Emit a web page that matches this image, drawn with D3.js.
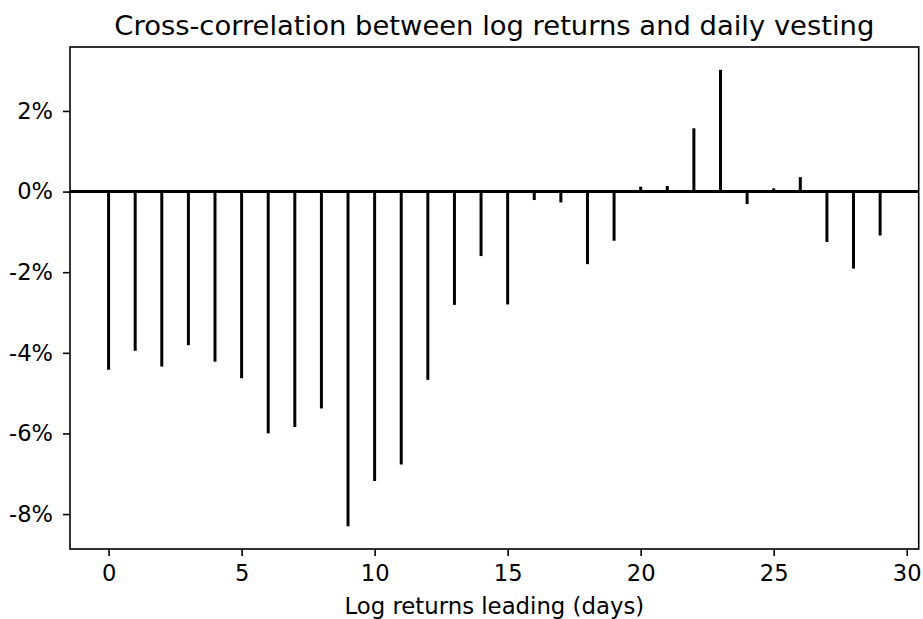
<!DOCTYPE html>
<html>
<head>
<meta charset="utf-8">
<script src="https://cdn.jsdelivr.net/npm/d3@7"></script>
<style>
  body { margin: 0; background: #fff; }
  svg { display: block; font-family: "DejaVu Sans", sans-serif; }
</style>
</head>
<body>
<div id="chart"></div>
<script>
// lag in days (log returns leading)
var lags = [0, 1, 2, 3, 4, 5, 6, 7, 8, 9, 10, 11, 12, 13, 14,
            15, 16, 17, 18, 19, 20, 21, 22, 23, 24, 25, 26, 27, 28, 29];

// cross-correlation values (in %)
var corrPct = [-4.42, -3.95, -4.34, -3.81, -4.22, -4.63, -6.00, -5.84, -5.38, -8.30,
               -7.18, -6.77, -4.67, -2.81, -1.60, -2.80, -0.21, -0.27, -1.80, -1.22,
                0.12,  0.14,  1.57,  3.02, -0.31,  0.08,  0.36, -1.25, -1.91, -1.09];

var xTicks = [0, 5, 10, 15, 20, 25, 30];
var yTicks = [-0.08, -0.06, -0.04, -0.02, 0, 0.02];

var titleText = 'Cross-correlation between log returns and daily vesting';
var xLabelText = 'Log returns leading (days)';

var width = 923, height = 619;
var margin = { top: 47, right: 4.3, bottom: 70, left: 70 };
var tickFont = '22.6px', labelFont = '22.8px', titleFont = '27.4px';

var data = lags.map(function (d, i) { return { lag: d, value: corrPct[i] / 100 }; });

// matplotlib-like 5% padding on both axes
function padded(lo, hi) {
  var p = (hi - lo) * 0.05;
  return [lo - p, hi + p];
}

var x = d3.scaleLinear()
  .domain(padded(d3.min(lags), d3.max(lags)))
  .range([margin.left, width - margin.right]);

var y = d3.scaleLinear()
  .domain(padded(d3.min(data, function (d) { return d.value; }),
                 d3.max(data, function (d) { return d.value; })))
  .range([height - margin.bottom, margin.top]);

var svg = d3.select('#chart').append('svg')
  .attr('width', width)
  .attr('height', height);

// stems
svg.append('g')
  .selectAll('line')
  .data(data)
  .enter().append('line')
  .attr('x1', function (d) { return x(d.lag); })
  .attr('x2', function (d) { return x(d.lag); })
  .attr('y1', y(0))
  .attr('y2', function (d) { return y(d.value); })
  .attr('stroke', '#000')
  .attr('stroke-width', 3);

// zero line
svg.append('line')
  .attr('x1', margin.left)
  .attr('x2', width - margin.right)
  .attr('y1', y(0))
  .attr('y2', y(0))
  .attr('stroke', '#000')
  .attr('stroke-width', 3);

// axes
var xAxis = d3.axisBottom(x)
  .tickValues(xTicks)
  .tickSize(7)
  .tickPadding(9)
  .tickFormat(function (d) { return d; });

var yAxis = d3.axisLeft(y)
  .tickValues(yTicks)
  .tickSize(7)
  .tickPadding(10)
  .tickFormat(function (d) { return Math.round(d * 100) + '%'; });

var gx = svg.append('g')
  .attr('transform', 'translate(0,' + (height - margin.bottom) + ')')
  .call(xAxis);

var gy = svg.append('g')
  .attr('transform', 'translate(' + margin.left + ',0)')
  .call(yAxis);

[gx, gy].forEach(function (g) {
  g.select('.domain').remove();
  g.selectAll('.tick line').attr('stroke', '#000').attr('stroke-width', 1.6);
  g.selectAll('.tick text')
    .attr('fill', '#000')
    .style('font-size', tickFont)
    .style('font-family', '"DejaVu Sans", sans-serif');
});

// frame
svg.append('rect')
  .attr('x', margin.left)
  .attr('y', margin.top)
  .attr('width', width - margin.left - margin.right)
  .attr('height', height - margin.top - margin.bottom)
  .attr('fill', 'none')
  .attr('stroke', '#000')
  .attr('stroke-width', 1.6);

// title and x label
svg.append('text')
  .attr('x', (margin.left + width - margin.right) / 2)
  .attr('y', 35)
  .attr('text-anchor', 'middle')
  .style('font-size', titleFont)
  .text(titleText);

svg.append('text')
  .attr('x', (margin.left + width - margin.right) / 2)
  .attr('y', 614)
  .attr('text-anchor', 'middle')
  .style('font-size', labelFont)
  .text(xLabelText);
</script>
</body>
</html>
